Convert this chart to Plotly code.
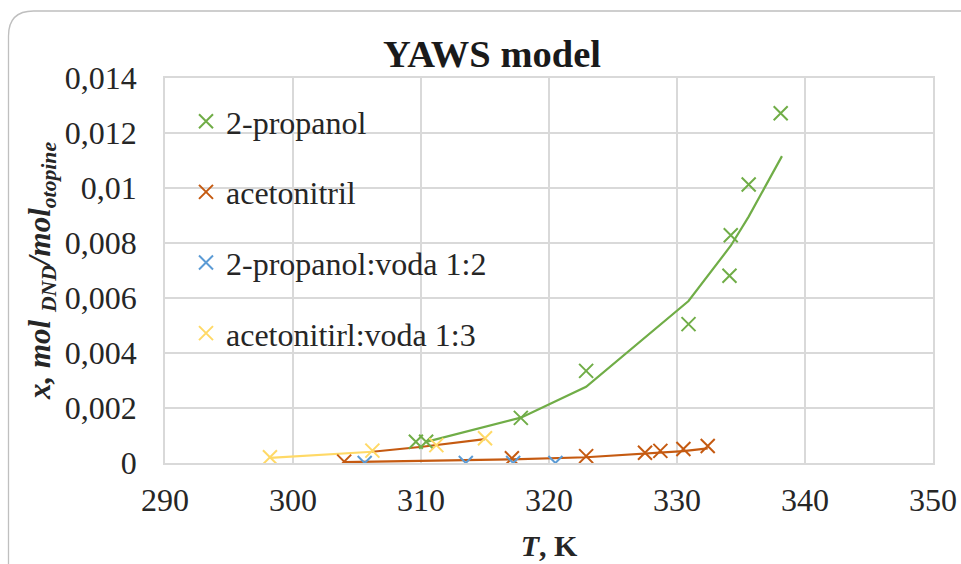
import plotly.graph_objects as go

# ---- data ----
T_prop = [309.6, 310.4, 317.8, 322.9, 330.9, 334.1, 334.2, 335.6, 338.1]
x_prop = [0.00077, 0.00077, 0.00164, 0.00335, 0.00505, 0.00681, 0.00828, 0.01013, 0.01272]
T_prop_model = [310.4, 317.8, 322.9, 330.9, 334.2, 335.6, 338.2]
x_prop_model = [0.00077, 0.00165, 0.00277, 0.00589, 0.0079, 0.00896, 0.01116]

T_acn = [304.0, 317.1, 322.9, 327.5, 328.7, 330.5, 332.4]
x_acn = [0.00005, 0.00017, 0.00025, 0.00037, 0.00044, 0.00051, 0.00062]
T_acn_model = [304.0, 317.1, 322.9, 327.5, 328.7, 330.5, 332.4]
x_acn_model = [0.00003, 0.000135, 0.00021, 0.00033, 0.00036, 0.00043, 0.00053]

T_propw = [305.6, 313.5, 317.2, 320.5]
x_propw = [0.0, 0.0, 0.0, 0.0]

T_acnw = [298.2, 306.2, 311.2, 315.0]
x_acnw = [0.00021, 0.00045, 0.00065, 0.0009]
T_acnw_model1 = [298.2, 306.2]
x_acnw_model1 = [0.00019, 0.00041]
T_acnw_model2 = [306.2, 310.1, 315.0]
x_acnw_model2 = [0.00041, 0.00059, 0.00087]

names = ["2-propanol", "acetonitril", "2-propanol:voda 1:2", "acetonitirl:voda 1:3"]
y_ticks = [0, 0.002, 0.004, 0.006, 0.008, 0.010, 0.012, 0.014]
y_ticktext = ["0", "0,002", "0,004", "0,006", "0,008", "0,01", "0,012", "0,014"]
x_ticks = [290, 300, 310, 320, 330, 340, 350]

GREEN = "#70AD47"
ORANGE = "#C55A11"
BLUE = "#5B9BD5"
YELLOW = "#FFD966"
FONT = "Liberation Serif"

fig = go.Figure()

# model lines
fig.add_trace(go.Scatter(x=T_acnw_model1, y=x_acnw_model1, mode="lines",
                         line=dict(color=YELLOW, width=2.2), showlegend=False, hoverinfo="skip"))
fig.add_trace(go.Scatter(x=T_acnw_model2, y=x_acnw_model2, mode="lines",
                         line=dict(color=ORANGE, width=2.2), showlegend=False, hoverinfo="skip"))
fig.add_trace(go.Scatter(x=T_acn_model, y=x_acn_model, mode="lines",
                         line=dict(color=ORANGE, width=2.2), showlegend=False, hoverinfo="skip"))
fig.add_trace(go.Scatter(x=T_prop_model, y=x_prop_model, mode="lines",
                         line=dict(color=GREEN, width=2.2), showlegend=False, hoverinfo="skip"))

series = [(T_prop, x_prop, GREEN), (T_acn, x_acn, ORANGE),
          (T_propw, x_propw, BLUE), (T_acnw, x_acnw, YELLOW)]
for i, (tx, xv, col) in enumerate(series):
    fig.add_trace(go.Scatter(
        x=tx, y=xv, mode="markers", name=names[i], legendgroup=f"g{i}",
        marker=dict(symbol="x-thin", size=14, line=dict(color=col, width=2), color=col),
    ))

# chart frame with rounded top-left corner (paper coords from pixel positions)
L, R, TOP, BOT = 165, 933, 78, 463
def px(x):
    return (x - L) / (R - L)
def py(y):
    return (BOT - y) / (BOT - TOP)

r = 25
path = (f"M {px(8.5)},{py(600)} L {px(8.5)},{py(11 + r)} "
        f"Q {px(8.5)},{py(11)} {px(8.5 + r)},{py(11)} L {px(1000)},{py(11)}")
fig.add_shape(type="path", path=path, xref="paper", yref="paper",
              line=dict(color="#BFBFBF", width=1.3), layer="below")

fig.update_layout(
    width=961, height=564,
    margin=dict(l=L, r=961 - R, t=TOP, b=564 - BOT, autoexpand=False),
    paper_bgcolor="white", plot_bgcolor="white",
    font=dict(family=FONT, size=32, color="#262626"),
    title=dict(text="<b>YAWS model</b>", x=492 / 961,
               xanchor="center", y=1 - 54 / 564, yanchor="middle",
               font=dict(family=FONT, size=38.5, color="#1a1a1a")),
    showlegend=True,
    legend=dict(x=px(186), y=py(94), xanchor="left", yanchor="top",
                bgcolor="rgba(0,0,0,0)", font=dict(family=FONT, size=32, color="#262626"),
                traceorder="grouped", tracegroupgap=26, itemwidth=30),
    xaxis=dict(range=[290, 350], tickvals=x_ticks, showgrid=True, gridcolor="#D9D9D9",
               gridwidth=1.5, zeroline=False, showline=True, linecolor="#D9D9D9", linewidth=1.5,
               mirror=True, ticks="", ticklabelstandoff=8, automargin=False,
               tickfont=dict(family=FONT, size=32, color="#262626"),
               title=dict(text="<b><i>T</i>, K</b>", font=dict(family=FONT, size=30, color="#262626"),
                          standoff=18)),
    yaxis=dict(range=[0, 0.014], tickvals=y_ticks, ticktext=y_ticktext, showgrid=True,
               gridcolor="#D9D9D9", gridwidth=1.5, zeroline=False, showline=True,
               linecolor="#D9D9D9", linewidth=1.5, mirror=True, ticks="", ticklabelstandoff=20,
               automargin=False,
               tickfont=dict(family=FONT, size=32, color="#262626"),
               title=dict(text="<b><i>x, mol <sub>DND</sub>/mol<sub>otopine</sub></i></b>",
                          font=dict(family=FONT, size=31, color="#262626"), standoff=5)),
)

fig.write_html("out.html", config={"displayModeBar": False},
               post_script="document.body.style.margin='0';")
